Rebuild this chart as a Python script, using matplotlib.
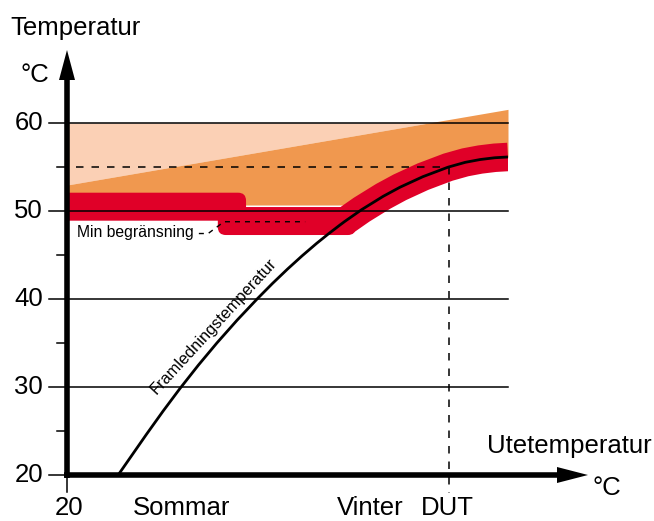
import matplotlib
matplotlib.use("Agg")
import matplotlib.pyplot as plt
import numpy as np
from matplotlib.patches import FancyBboxPatch, Rectangle
from matplotlib import font_manager

# ---------------- data ----------------
y_major = [20, 30, 40, 50, 60]
y_minor = [25, 35, 45, 55]
x_labels = ["20", "Sommar", "Vinter", "DUT"]
x_label_pos = [0.4, 25.9, 68.7, 86.3]

# supply temperature curve (position along outdoor axis 0..100, temperature)
curve_pos = [11.6, 18.0, 21.8, 25.6, 29.8, 34.0, 38.6, 43.2, 46.6, 50.0,
             53.3, 56.6, 59.25, 61.9, 63.0, 66.8, 71.7, 75.5, 80.7, 86.4,
             90.3, 93.7, 97.0, 100.0]
curve_temp = [20.0, 24.61, 27.27, 29.82, 32.49, 35.01, 37.61, 40.05, 41.77,
              43.40, 44.90, 46.32, 47.39, 48.41, 48.82, 50.15, 51.67, 52.70,
              53.90, 54.98, 55.53, 55.85, 56.05, 56.14]

# upper (orange) limit line
upper_pos = [0.0, 100.0]
upper_temp = [52.95, 61.55]
peach_top = 60.0
orange_floor = 50.68

# red band pieces: (x0, x1, y0, y1)
band_a = (-3.0, 40.6, 48.9, 52.08)
band_b = (34.2, 65.5, 47.27, 50.45)
band_start = 63.0

dut_pos = 86.6
dut_temp = 55.0
min_line_pos = [29.9, 32.0, 35.6, 54.0]
min_line_temp = [47.44, 47.44, 48.78, 48.78]

# ---------------- styling ----------------
PX_X = 4.41   # pixels per x unit
PX_Y = 8.8    # pixels per degree
RED = "#E00028"
ORANGE = "#F0984F"
PEACH = "#FBD0B5"
FONT = "Liberation Sans"
FS = 18.5

_names = {f.name for f in font_manager.fontManager.ttflist}
if "Liberation Sans Narrow" in _names:
    NARROW, FS_MIN, FS_FRAM = "Liberation Sans Narrow", 13.8, 14.2
else:
    NARROW, FS_MIN, FS_FRAM = "Liberation Sans", 11.3, 11.8

fig = plt.figure(figsize=(6.54, 5.21), dpi=100)
ax = fig.add_axes([0, 0, 1, 1])
ax.set_xlim(-67 / PX_X, (654 - 67) / PX_X)
ax.set_ylim(20 - 46 / PX_Y, 20 + 475 / PX_Y)
ax.axis("off")

clip = Rectangle((0, 0), 100, 100, transform=ax.transData)

# shaded zones
xs = np.unique(np.concatenate([np.linspace(0, 100, 401), curve_pos]))
up = np.interp(xs, upper_pos, upper_temp)
low = np.maximum(orange_floor, np.interp(xs, curve_pos, curve_temp))
ax.fill_between(xs, np.minimum(up, peach_top), peach_top, color=PEACH, lw=0, zorder=1)
ax.fill_between(xs, low, up, color=ORANGE, lw=0, zorder=2)

# red band
r = 8.0 / PX_X
for (x0, x1, y0, y1) in (band_a, band_b):
    p = FancyBboxPatch((x0, y0), x1 - x0, y1 - y0,
                       boxstyle=f"round,pad=0,rounding_size={r}",
                       mutation_aspect=PX_X / PX_Y, fc=RED, ec="none", zorder=3)
    ax.add_patch(p)
    p.set_clip_path(clip)
i0 = curve_pos.index(band_start)
ln, = ax.plot(curve_pos[i0:], curve_temp[i0:], color=RED, lw=28.5 * 0.72,
              solid_capstyle="butt", solid_joinstyle="round", zorder=3)
ln.set_clip_path(clip)

# grid lines
for v in y_major[1:]:
    ax.plot([0, 100], [v, v], color="black", lw=1.1, zorder=4)

# dashed helper lines
ax.plot([2.0, dut_pos], [dut_temp, dut_temp], color="black", lw=1.1,
        dashes=(7.5 / 1.1 * 0.72, 8 / 1.1 * 0.72), zorder=5)
ax.plot([dut_pos, dut_pos], [dut_temp, 20 - 18 / PX_Y], color="black", lw=1.1,
        dashes=(7.5 / 1.1 * 0.72, 8 / 1.1 * 0.72), zorder=5)
ax.plot(min_line_pos, min_line_temp, color="black", lw=1.0,
        dashes=(5 / 1.0 * 0.72, 5 / 1.0 * 0.72), zorder=5)

# supply temperature curve
ax.plot(curve_pos, curve_temp, color="black", lw=2.0, zorder=6,
        solid_capstyle="butt", solid_joinstyle="round")

# axes with arrows
y_arrow_base = 20 + (475 - 80) / PX_Y
y_arrow_tip = 20 + (475 - 50) / PX_Y
x_arrow_base = (557 - 67) / PX_X
x_arrow_tip = (588 - 67) / PX_X
ax.plot([0, 0], [20 - 2.8 / PX_Y, y_arrow_base + 0.1], color="black", lw=4.0,
        solid_capstyle="butt", zorder=7)
ax.plot([-2.8 / PX_X, x_arrow_base + 0.1], [20, 20], color="black", lw=4.0,
        solid_capstyle="butt", zorder=7)
hw = 8.0
ax.fill([-hw / PX_X, hw / PX_X, 0], [y_arrow_base, y_arrow_base, y_arrow_tip],
        color="black", lw=0, zorder=7)
ax.fill([x_arrow_base, x_arrow_base, x_arrow_tip],
        [20 - hw / PX_Y, 20 + hw / PX_Y, 20], color="black", lw=0, zorder=7)

# ticks
for v in y_major:
    ax.plot([-18 / PX_X, 0], [v, v], color="black", lw=1.1, zorder=7)
    ax.text(-24 / PX_X, v, str(v), ha="right", va="center", fontsize=FS,
            family=FONT, zorder=8)
for v in y_minor:
    ax.plot([-10 / PX_X, 0], [v, v], color="black", lw=1.1, zorder=7)
ax.plot([0, 0], [20, 20 - 17 / PX_Y], color="black", lw=1.1, zorder=7)

for lab, pos in zip(x_labels, x_label_pos):
    ax.text(pos, 20 - 40 / PX_Y, lab, ha="center", va="baseline", fontsize=FS,
            family=FONT, zorder=8)

# axis titles
ax.text(-57 / PX_X, 20 + (475 - 35) / PX_Y, "Temperatur", ha="left",
        va="baseline", fontsize=FS, family=FONT)
ax.text(-47 / PX_X, 20 + (475 - 82) / PX_Y, "°C", ha="left",
        va="baseline", fontsize=FS, family=FONT)
ax.text((487 - 67) / PX_X, 20 + (475 - 453) / PX_Y, "Utetemperatur", ha="left",
        va="baseline", fontsize=FS, family=FONT)
ax.text((592 - 67) / PX_X, 20 + (475 - 495) / PX_Y, "°C", ha="left",
        va="baseline", fontsize=FS, family=FONT)

# annotations
ax.text((77 - 67) / PX_X, 20 + (475 - 233) / PX_Y, "Min begränsning",
        ha="left", va="center", fontsize=FS_MIN, family=NARROW, zorder=8)
ax.text((214 - 67) / PX_X, 20 + (475 - 326) / PX_Y, "Framledningstemperatur",
        ha="center", va="center", rotation=47.4, rotation_mode="anchor",
        fontsize=FS_FRAM, family=NARROW, zorder=8)

fig.savefig("out.png", dpi=100)
